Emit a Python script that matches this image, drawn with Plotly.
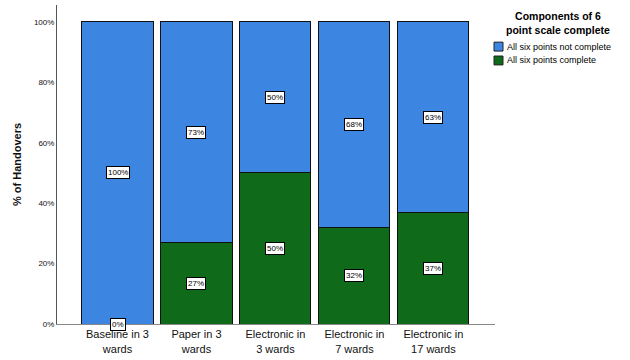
import plotly.graph_objects as go

categories = ["Baseline in 3<br>wards", "Paper in 3<br>wards", "Electronic in<br>3 wards",
              "Electronic in<br>7 wards", "Electronic in<br>17 wards"]
complete = [0, 27, 50, 32, 37]
not_complete = [100, 73, 50, 68, 63]
series_names = ["All six points not complete", "All six points complete"]
legend_title = "Components of 6<br>point scale complete"
y_title = "% of Handovers"
y_ticks = [0, 20, 40, 60, 80, 100]

BLUE = "#3c86e2"
GREEN = "#0f6a1a"

W, H = 630, 360
ML, MR, MT, MB = 57, 135, 5, 33
PX0, PX1 = ML, W - MR
PY0, PY1 = MT, H - MB


def px(xp):
    return (xp - PX0) / (PX1 - PX0)


def py(yp):
    return (PY1 - yp) / (PY1 - PY0)


x = list(range(len(categories)))
fig = go.Figure()
fig.add_trace(go.Bar(x=x, y=complete, name=series_names[1],
                     marker=dict(color=GREEN, line=dict(color="#111", width=1)), showlegend=False))
fig.add_trace(go.Bar(x=x, y=not_complete, name=series_names[0],
                     marker=dict(color=BLUE, line=dict(color="#111", width=1)), showlegend=False))

annotations = []
lab_font = dict(size=8, color="black", family="Arial")
for i in x:
    c = complete[i]
    n = not_complete[i]
    annotations.append(dict(x=i, y=c / 2, xref="x", yref="y", text=f"{c}%", showarrow=False,
                            font=lab_font, bgcolor="white", bordercolor="black", borderwidth=1, borderpad=1))
    annotations.append(dict(x=i, y=c + n / 2, xref="x", yref="y", text=f"{n}%", showarrow=False,
                            font=lab_font, bgcolor="white", bordercolor="black", borderwidth=1, borderpad=1))

annotations += [
    dict(x=px(558), y=py(23), xref="paper", yref="paper", text="<b>" + legend_title + "</b>", showarrow=False,
         font=dict(size=10.5, color="black", family="Arial"), align="center", xanchor="center", yanchor="middle"),
    dict(x=px(505), y=py(47), xref="paper", yref="paper", text=series_names[0], showarrow=False,
         font=dict(size=9, color="black", family="Arial"), xanchor="left", yanchor="middle"),
    dict(x=px(505), y=py(61), xref="paper", yref="paper", text=series_names[1], showarrow=False,
         font=dict(size=9, color="black", family="Arial"), xanchor="left", yanchor="middle"),
]
shapes = [
    dict(type="rect", xref="paper", yref="paper", x0=px(494), x1=px(503), y0=py(51.5), y1=py(42.5),
         fillcolor=BLUE, line=dict(color="#222", width=1)),
    dict(type="rect", xref="paper", yref="paper", x0=px(494), x1=px(503), y0=py(65.5), y1=py(56.5),
         fillcolor=GREEN, line=dict(color="#222", width=1)),
]

fig.update_layout(
    width=W, height=H,
    barmode="stack", bargap=0.1,
    plot_bgcolor="white", paper_bgcolor="white",
    margin=dict(l=ML, r=MR, t=MT, b=MB),
    annotations=annotations, shapes=shapes,
    font=dict(family="Arial", color="black"),
    xaxis=dict(range=[-0.766, 4.78], tickmode="array", tickvals=x, ticktext=categories,
               tickfont=dict(size=11, family="Arial", color="#111"), showline=True, linecolor="#888",
               linewidth=1, showgrid=False, ticks="", zeroline=False, fixedrange=True),
    yaxis=dict(range=[0, 105.6], tickmode="array", tickvals=y_ticks, ticktext=[f"{t}%" for t in y_ticks],
               tickfont=dict(size=8, family="Arial", color="#111"), showline=True, linecolor="#555",
               linewidth=1, showgrid=False, ticks="", zeroline=False,
               title=dict(text="<b>" + y_title + "</b>", font=dict(size=11, family="Arial", color="#111"),
                          standoff=10)),
)

fig.write_html("out.html")
